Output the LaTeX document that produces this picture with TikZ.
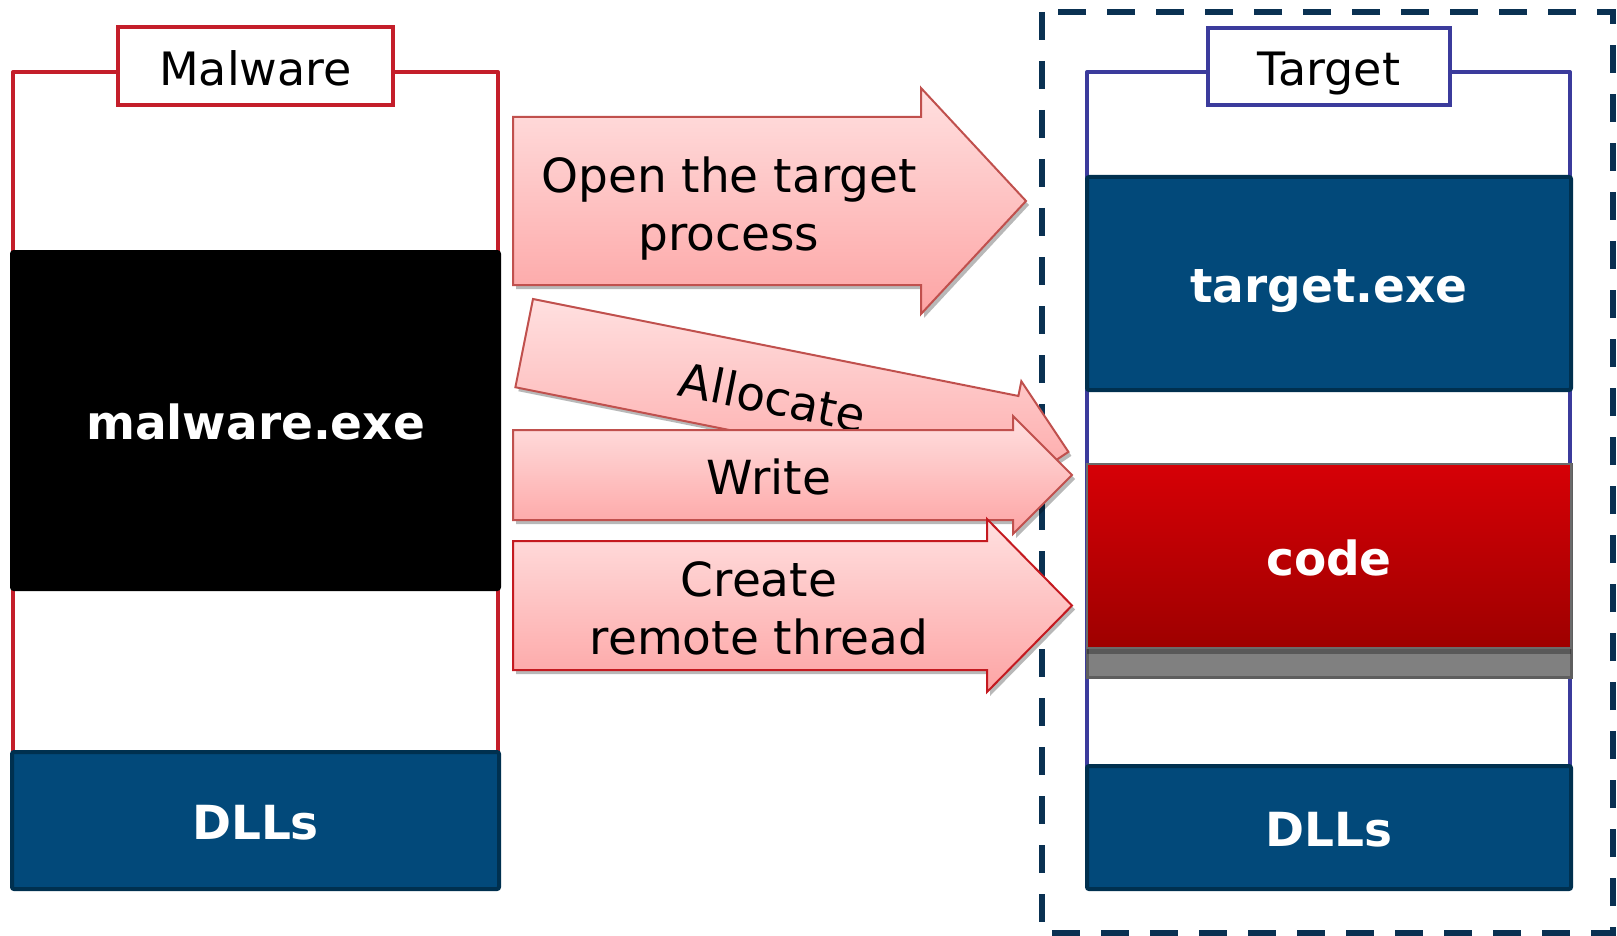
\documentclass[tikz,border=0pt]{standalone}
\usepackage{fontspec}
\setmainfont{DejaVu Sans}
\usetikzlibrary{shadows}

\definecolor{malred}{HTML}{C41E2A}
\definecolor{tgtblue}{HTML}{3B3B9C}
\definecolor{navyfill}{HTML}{02497A}
\definecolor{navyline}{HTML}{00304F}
\definecolor{dashnavy}{HTML}{0A3152}
\definecolor{arrtop}{HTML}{FFE0E0}
\definecolor{arrbot}{HTML}{FDA4A4}
\definecolor{arrline}{HTML}{C0504D}
\definecolor{arrlinedark}{HTML}{C41A20}
\definecolor{codetop}{HTML}{D60006}
\definecolor{codebot}{HTML}{9E0000}

\begin{document}
\begin{tikzpicture}[x=1pt,y=-1pt,
  frameline/.style={draw=#1, line width=4pt, line join=round},
  tagbox/.style={draw=#1, fill=white, line width=4pt, inner sep=0pt,
    text height=39pt, text depth=0pt,
    font=\fontsize{46}{55}\selectfont},
  membox/.style={draw=navyline, fill=navyfill, line width=4pt, inner sep=0pt,
    text height=38pt, text depth=0pt,
    rounded corners=2pt, text=white, font=\bfseries\fontsize{47}{56}\selectfont},
  blockarrow/.style={draw=arrline, line width=2pt, line join=miter,
    top color=arrtop, bottom color=arrbot,
    drop shadow={shadow xshift=3pt, shadow yshift=-4pt, opacity=0.28, fill=black}},
  steptext/.style={inner sep=0pt, font=\fontsize{47}{58}\selectfont}]

\useasboundingbox (0,0) rectangle (1617,936);

% ---- malware process ----
\draw[frameline=malred] (13,72) rectangle (498,800);
\node[tagbox=malred, minimum width=275pt, minimum height=78pt] (maltag) at (255.5,66) {Malware};
\node[membox, draw=black, fill=black, minimum width=487pt, minimum height=337pt] (malexe) at (255.5,420.5) {malware.exe};
\node[membox, minimum width=487pt, minimum height=137pt] (maldll) at (255.5,820.5) {DLLs};

% ---- target process ----
\draw[draw=dashnavy, line width=6.5pt, dash pattern=on 28pt off 21pt] (1042,12) rectangle (1613,933);
\draw[frameline=tgtblue] (1087,72) rectangle (1570,850);
\node[tagbox=tgtblue, minimum width=242pt, minimum height=77pt] (tgttag) at (1329,66.5) {Target};
\node[membox, minimum width=484pt, minimum height=213pt] (tgtexe) at (1329,283.5) {target.exe};
\node[draw=black!63, fill=black!50, line width=3pt, minimum width=484pt, minimum height=213pt, inner sep=0pt] (alloc) at (1329,570.5) {};
\node[draw=black!58, line width=1.5pt, top color=codetop, bottom color=codebot,
  minimum width=484pt, minimum height=184pt, inner sep=0pt, text=white,
  text height=38pt, text depth=0pt,
  font=\bfseries\fontsize{47}{56}\selectfont,
  drop shadow={shadow xshift=0pt, shadow yshift=-6pt, opacity=0.3, fill=black}] (code) at (1329,556) {code};
\node[membox, minimum width=484pt, minimum height=123pt] (tgtdll) at (1329,827.5) {DLLs};

% ---- injection steps ----
\draw[blockarrow] (513,117) -- (921,117) -- (921,88) -- (1026,201) -- (921,314) -- (921,285) -- (513,285) -- cycle;
\node[steptext, align=center] (topen) at (729,209) {Open the target\\process};

\begin{scope}[shift={(533,299)}, rotate=-11.3]
  \draw[blockarrow] (0,0) -- (495,0) -- (495,-15) -- (555,45) -- (495,105) -- (495,90) -- (0,90) -- cycle;
\end{scope}
\node[steptext, rotate=-11.3] (talloc) at (773,397) {Allocate};

\draw[blockarrow] (513,430) -- (1013,430) -- (1013,416) -- (1072,475) -- (1013,534) -- (1013,520) -- (513,520) -- cycle;
\node[steptext] (twrite) at (769,477) {Write};

\draw[blockarrow, draw=arrlinedark] (513,541) -- (987,541) -- (987,519) -- (1072,605.5) -- (987,692) -- (987,670) -- (513,670) -- cycle;
\node[steptext, align=center] (tcreate) at (759,608) {Create\\remote thread};

\end{tikzpicture}
\end{document}
